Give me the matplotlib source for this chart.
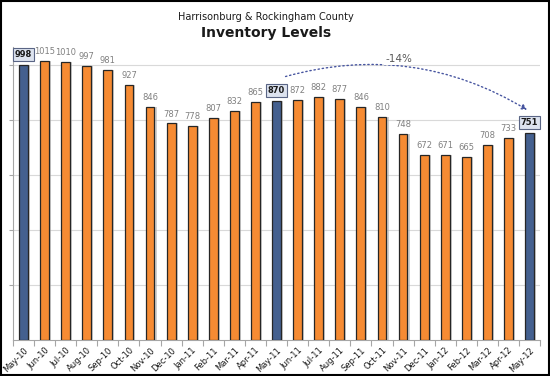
import matplotlib.pyplot as plt
from matplotlib.patches import FancyArrowPatch, Rectangle

months = ["May-10", "Jun-10", "Jul-10", "Aug-10", "Sep-10", "Oct-10", "Nov-10",
          "Dec-10", "Jan-11", "Feb-11", "Mar-11", "Apr-11", "May-11", "Jun-11",
          "Jul-11", "Aug-11", "Sep-11", "Oct-11", "Nov-11", "Dec-11", "Jan-12",
          "Feb-12", "Mar-12", "Apr-12", "May-12"]
inventory = [998, 1015, 1010, 997, 981, 927, 846, 787, 778, 807, 832, 865, 870,
             872, 882, 877, 846, 810, 748, 672, 671, 665, 708, 733, 751]
highlight = ["May-10", "May-11", "May-12"]
change_label = "-14%"

blue = "#44608f"
orange = "#f68b33"

fig = plt.figure(figsize=(5.5, 3.76), dpi=100)
ax = fig.add_axes([0.0236, 0.0957, 0.9584, 0.7793])

x = list(range(len(months)))
colors = [blue if m in highlight else orange for m in months]

# soft shadow behind bars
ax.bar([i + 0.1 for i in x], inventory, width=0.42, color="#b0b0b0",
       alpha=0.6, zorder=2, linewidth=0)
ax.bar(x, inventory, width=0.42, color=colors, edgecolor="#262626",
       linewidth=0.9, zorder=3)

for i, (m, v) in enumerate(zip(months, inventory)):
    if m in highlight:
        ax.text(i, v + 22, str(v), ha="center", va="bottom", fontsize=6,
                fontweight="bold", color="#1a1a1a", zorder=5,
                bbox=dict(boxstyle="square,pad=0.25", fc="#dde3ef",
                          ec="#5a6585", lw=0.8))
    else:
        ax.text(i, v + 18, str(v), ha="center", va="bottom", fontsize=6,
                color="#808080", zorder=5)

# dotted arc between May-11 and May-12
i0 = months.index("May-11")
i1 = months.index("May-12")
arc = FancyArrowPatch((i0 + 0.3, inventory[i0] + 85), (i1, inventory[i1] + 80),
                      connectionstyle="arc3,rad=-0.22", arrowstyle="-|>",
                      mutation_scale=8, color="#4755a0", linestyle=(0, (1, 2)),
                      lw=1.0, zorder=4)
ax.add_patch(arc)
ax.text(17.8, 1020, change_label, ha="center", va="center", fontsize=7.5,
        color="#595959", zorder=5,
        bbox=dict(boxstyle="square,pad=0.1", fc="white", ec="none"))

ax.set_xlim(-0.5, len(months) - 0.5)
ax.set_ylim(0, 1065)
ax.set_yticks([200, 400, 600, 800, 1000])
ax.set_yticklabels([])
ax.yaxis.grid(True, color="#d9d9d9", lw=0.8, zorder=0)
ax.tick_params(axis="y", length=3, color="#a6a6a6")

ax.set_xticks([i - 0.5 for i in range(len(months) + 1)], minor=False)
ax.set_xticklabels([])
ax.set_xticks(x, minor=True)
ax.set_xticklabels(months, minor=True, rotation=45, ha="right",
                   rotation_mode="anchor", fontsize=6, color="#1a1a1a")
ax.tick_params(axis="x", which="major", length=4, color="#a6a6a6")
ax.tick_params(axis="x", which="minor", length=0, pad=4)

for s in ["top", "right"]:
    ax.spines[s].set_visible(False)
for s in ["left", "bottom"]:
    ax.spines[s].set_color("#a6a6a6")

fig.text(0.483, 1 - 17 / 376, "Harrisonburg & Rockingham County", ha="center",
         va="center", fontsize=7, color="#1a1a1a")
fig.text(0.483, 1 - 33 / 376, "Inventory Levels", ha="center", va="center",
         fontsize=10, fontweight="bold", color="#1a1a1a")

fig.patches.append(Rectangle((0.002, 0.003), 0.996, 0.994, transform=fig.transFigure,
                             fill=False, ec="black", lw=1.5))

plt.savefig("out.png", dpi=100)
plt.close()
